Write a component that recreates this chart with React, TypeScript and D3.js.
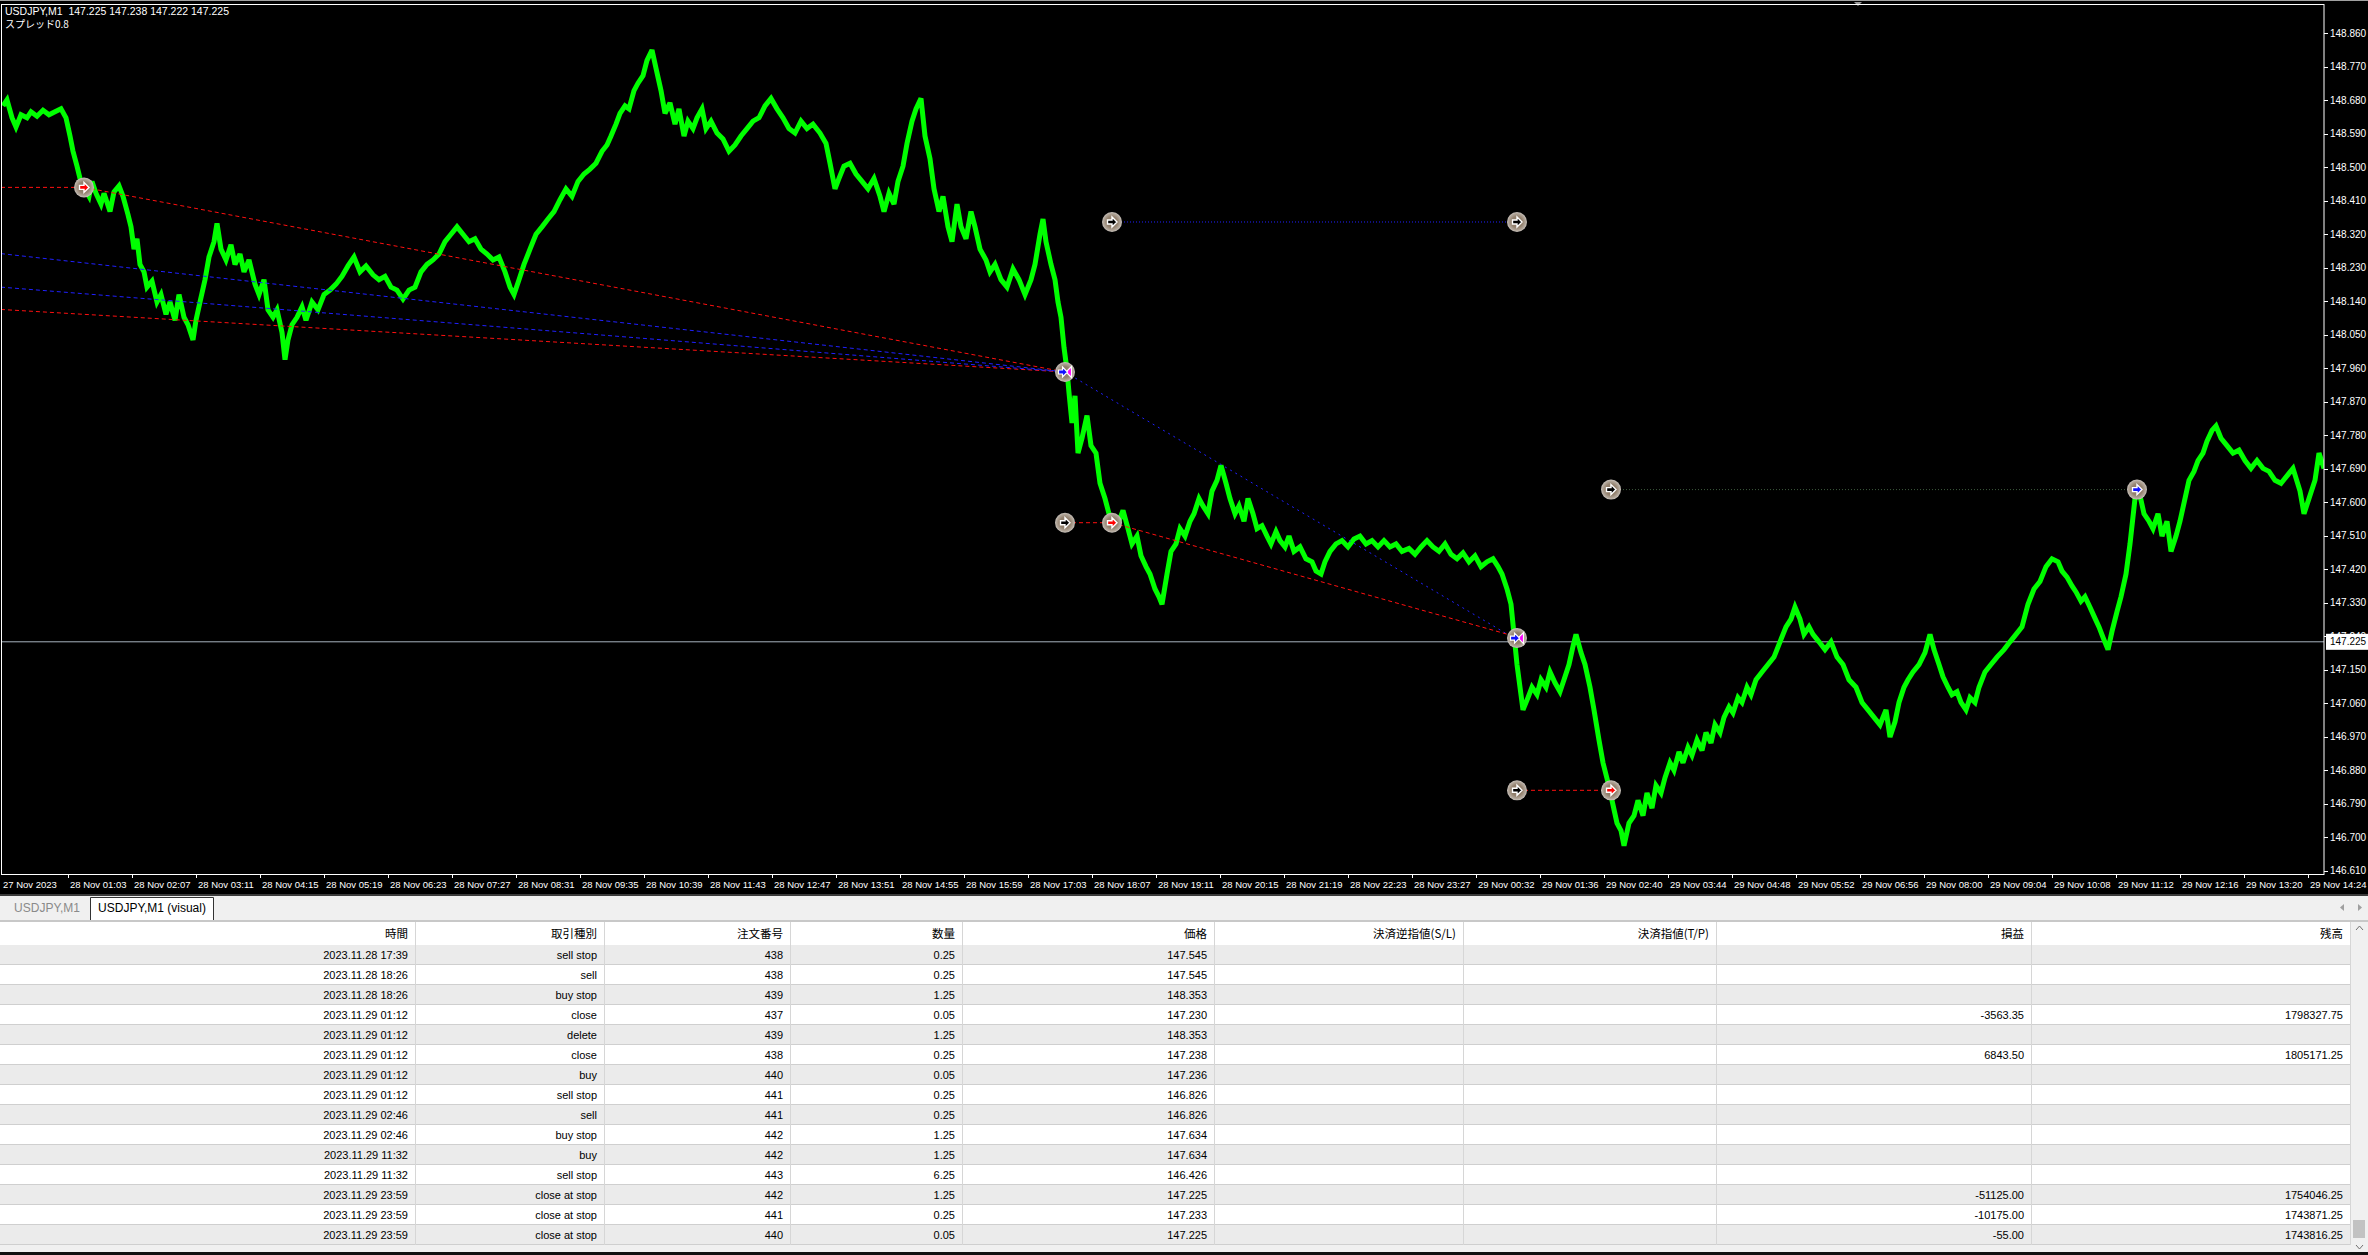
import React from 'react';
import * as d3 from 'd3';

// ---------- data ----------
const symbolTitle = 'USDJPY,M1';
const ohlcValues = ['147.225', '147.238', '147.222', '147.225'];
const spreadText = 'スプレッド0.8';
const bidPrice = 147.225;

const startTime = '2023.11.27 23:55';
// price trace: bar index (minutes from start) and price
const seriesBar = [
  2, 6, 11, 15, 20, 26, 30, 36, 42, 48, 54, 60, 65, 69, 72, 76, 79, 83, 88, 91,
  95, 100, 103, 109, 113, 118, 122, 127, 130, 133, 136, 139, 143, 146, 151, 156, 160, 165, 169, 174,
  178, 183, 187, 192, 195, 199, 204, 208, 213, 216, 220, 225, 230, 234, 239, 243, 248, 254, 258, 263,
  267, 272, 276, 281, 284, 287, 291, 296, 301, 305, 311, 317, 323, 329, 335, 341, 347, 353, 359, 365,
  372, 378, 384, 390, 396, 402, 408, 414, 420, 426, 432, 438, 444, 450, 456, 462, 468, 474, 480, 486,
  492, 498, 504, 509, 513, 518, 523, 529, 535, 541, 547, 553, 559, 565, 571, 577, 583, 589, 595, 601,
  606, 610, 615, 619, 624, 628, 633, 637, 642, 646, 651, 655, 660, 664, 669, 674, 678, 683, 687, 692,
  696, 701, 705, 710, 716, 722, 728, 734, 740, 746, 752, 758, 764, 770, 776, 782, 788, 794, 800, 806,
  812, 819, 825, 829, 834, 838, 843, 849, 855, 861, 867, 873, 879, 883, 888, 893, 897, 902, 906, 911,
  915, 920, 924, 929, 933, 938, 942, 947, 951, 956, 960, 965, 970, 974, 979, 985, 989, 994, 1000, 1006,
  1012, 1018, 1024, 1030, 1034, 1039, 1042, 1045, 1050, 1054, 1057, 1060, 1063, 1066, 1068, 1071, 1074, 1077, 1081, 1086,
  1090, 1095, 1099, 1104, 1108, 1113, 1118, 1122, 1127, 1131, 1136, 1140, 1145, 1149, 1154, 1158, 1161, 1166, 1170, 1175,
  1179, 1184, 1189, 1193, 1198, 1202, 1207, 1211, 1216, 1220, 1225, 1229, 1234, 1238, 1243, 1247, 1252, 1256, 1261, 1266,
  1270, 1275, 1279, 1284, 1288, 1293, 1299, 1305, 1311, 1315, 1320, 1324, 1329, 1335, 1341, 1347, 1353, 1359, 1365, 1371,
  1377, 1383, 1389, 1395, 1401, 1408, 1414, 1420, 1426, 1432, 1438, 1444, 1450, 1456, 1462, 1468, 1474, 1480, 1486, 1492,
  1497, 1501, 1506, 1510, 1513, 1516, 1519, 1522, 1527, 1531, 1536, 1540, 1545, 1549, 1554, 1559, 1563, 1568, 1572, 1575,
  1580, 1584, 1589, 1593, 1598, 1602, 1607, 1611, 1616, 1620, 1623, 1628, 1633, 1637, 1642, 1646, 1651, 1655, 1660, 1664,
  1669, 1673, 1678, 1682, 1687, 1691, 1696, 1701, 1705, 1710, 1714, 1719, 1723, 1728, 1732, 1737, 1741, 1746, 1750, 1755,
  1761, 1767, 1773, 1779, 1785, 1790, 1794, 1799, 1803, 1808, 1812, 1818, 1824, 1830, 1836, 1842, 1848, 1855, 1861, 1867,
  1873, 1879, 1885, 1889, 1894, 1898, 1903, 1907, 1912, 1918, 1924, 1929, 1933, 1938, 1942, 1947, 1951, 1956, 1960, 1965,
  1969, 1974, 1978, 1984, 1990, 1996, 2003, 2009, 2015, 2021, 2027, 2033, 2039, 2045, 2051, 2057, 2061, 2066, 2071, 2075,
  2080, 2084, 2089, 2093, 2098, 2102, 2107, 2111, 2116, 2120, 2125, 2129, 2134, 2138, 2143, 2148, 2152, 2157, 2161, 2166,
  2170, 2175, 2179, 2184, 2188, 2193, 2197, 2202, 2206, 2211, 2215, 2220, 2226, 2232, 2238, 2244, 2250, 2256, 2262, 2268,
  2274, 2280, 2286, 2292, 2299, 2303, 2308, 2314, 2318, 2323,
];
const seriesPrice = [
  148.665, 148.681, 148.633, 148.608, 148.641, 148.633, 148.649, 148.637, 148.653, 148.641, 148.649, 148.657, 148.633, 148.584, 148.543, 148.503, 148.470, 148.446, 148.422, 148.462,
  148.430, 148.401, 148.430, 148.381, 148.434, 148.450, 148.422, 148.373, 148.340, 148.280, 148.308, 148.239, 148.219, 148.178, 148.194, 148.138, 148.158, 148.105, 148.138, 148.089,
  148.158, 148.097, 148.077, 148.036, 148.089, 148.138, 148.198, 148.259, 148.300, 148.349, 148.280, 148.251, 148.292, 148.239, 148.267, 148.219, 148.251, 148.186, 148.158, 148.198,
  148.117, 148.097, 148.117, 148.056, 147.983, 148.036, 148.077, 148.097, 148.125, 148.089, 148.138, 148.117, 148.158, 148.170, 148.186, 148.207, 148.235, 148.259, 148.219, 148.235,
  148.211, 148.198, 148.207, 148.178, 148.170, 148.146, 148.170, 148.178, 148.219, 148.239, 148.251, 148.267, 148.300, 148.320, 148.340, 148.320, 148.300, 148.308, 148.280, 148.267,
  148.251, 148.259, 148.219, 148.178, 148.158, 148.198, 148.239, 148.280, 148.320, 148.340, 148.361, 148.381, 148.413, 148.442, 148.422, 148.462, 148.482, 148.495, 148.511, 148.543,
  148.560, 148.584, 148.616, 148.645, 148.665, 148.657, 148.706, 148.726, 148.746, 148.787, 148.815, 148.766, 148.706, 148.645, 148.673, 148.616, 148.657, 148.584, 148.624, 148.604,
  148.633, 148.657, 148.604, 148.624, 148.592, 148.576, 148.543, 148.560, 148.584, 148.604, 148.624, 148.633, 148.665, 148.685, 148.657, 148.633, 148.604, 148.592, 148.624, 148.604,
  148.616, 148.592, 148.564, 148.511, 148.442, 148.470, 148.503, 148.511, 148.482, 148.462, 148.442, 148.470, 148.422, 148.381, 148.430, 148.401, 148.462, 148.503, 148.564, 148.624,
  148.657, 148.685, 148.584, 148.523, 148.442, 148.381, 148.422, 148.340, 148.300, 148.401, 148.340, 148.308, 148.381, 148.340, 148.280, 148.251, 148.219, 148.239, 148.198, 148.178,
  148.227, 148.198, 148.158, 148.198, 148.239, 148.320, 148.361, 148.300, 148.239, 148.198, 148.138, 148.097, 148.016, 147.955, 147.894, 147.813, 147.886, 147.732, 147.772, 147.833,
  147.752, 147.732, 147.651, 147.610, 147.569, 147.537, 147.549, 147.578, 147.529, 147.488, 147.509, 147.456, 147.427, 147.407, 147.367, 147.346, 147.326, 147.407, 147.468, 147.488,
  147.529, 147.509, 147.549, 147.569, 147.610, 147.590, 147.569, 147.630, 147.659, 147.699, 147.651, 147.610, 147.569, 147.590, 147.549, 147.610, 147.569, 147.529, 147.537, 147.509,
  147.488, 147.521, 147.497, 147.480, 147.509, 147.468, 147.480, 147.448, 147.440, 147.415, 147.407, 147.440, 147.468, 147.488, 147.497, 147.480, 147.501, 147.509, 147.488, 147.497,
  147.480, 147.497, 147.480, 147.488, 147.468, 147.476, 147.460, 147.480, 147.497, 147.480, 147.468, 147.488, 147.460, 147.448, 147.464, 147.440, 147.456, 147.427, 147.440, 147.448,
  147.427, 147.407, 147.367, 147.326, 147.245, 147.164, 147.103, 147.042, 147.075, 147.103, 147.083, 147.123, 147.103, 147.144, 147.115, 147.091, 147.123, 147.164, 147.213, 147.245,
  147.196, 147.164, 147.103, 147.042, 146.961, 146.900, 146.847, 146.799, 146.738, 146.718, 146.677, 146.738, 146.758, 146.799, 146.758, 146.819, 146.778, 146.839, 146.819, 146.860,
  146.900, 146.880, 146.929, 146.900, 146.941, 146.920, 146.961, 146.933, 146.981, 146.953, 147.002, 146.981, 147.022, 147.050, 147.034, 147.075, 147.062, 147.103, 147.083, 147.123,
  147.144, 147.164, 147.184, 147.225, 147.265, 147.286, 147.318, 147.286, 147.245, 147.265, 147.245, 147.225, 147.204, 147.225, 147.184, 147.164, 147.123, 147.103, 147.062, 147.042,
  147.022, 147.002, 147.042, 146.969, 147.010, 147.062, 147.103, 147.123, 147.144, 147.164, 147.196, 147.245, 147.204, 147.164, 147.131, 147.103, 147.083, 147.091, 147.062, 147.042,
  147.075, 147.062, 147.103, 147.144, 147.164, 147.184, 147.204, 147.225, 147.245, 147.265, 147.326, 147.367, 147.387, 147.427, 147.448, 147.440, 147.415, 147.399, 147.375, 147.359,
  147.334, 147.346, 147.318, 147.294, 147.265, 147.237, 147.204, 147.253, 147.306, 147.346, 147.407, 147.488, 147.610, 147.630, 147.569, 147.549, 147.529, 147.569, 147.509, 147.549,
  147.468, 147.509, 147.549, 147.610, 147.659, 147.683, 147.712, 147.732, 147.764, 147.793, 147.805, 147.772, 147.752, 147.732, 147.740, 147.712, 147.691, 147.712, 147.691, 147.683,
  147.659, 147.651, 147.671, 147.691, 147.630, 147.569, 147.610, 147.659, 147.732, 147.691,
];

const priceTicks = [
  148.86, 148.77, 148.68, 148.59, 148.5, 148.41, 148.32, 148.23, 148.14, 148.05, 147.96, 147.87,
  147.78, 147.69, 147.6, 147.51, 147.42, 147.33, 147.24, 147.15, 147.06, 146.97, 146.88, 146.79,
  146.7, 146.61,
];

const timeTicks = [
  '2023.11.28 01:03', '2023.11.28 02:07', '2023.11.28 03:11', '2023.11.28 04:15', '2023.11.28 05:19',
  '2023.11.28 06:23', '2023.11.28 07:27', '2023.11.28 08:31', '2023.11.28 09:35', '2023.11.28 10:39',
  '2023.11.28 11:43', '2023.11.28 12:47', '2023.11.28 13:51', '2023.11.28 14:55', '2023.11.28 15:59',
  '2023.11.28 17:03', '2023.11.28 18:07', '2023.11.28 19:11', '2023.11.28 20:15', '2023.11.28 21:19',
  '2023.11.28 22:23', '2023.11.28 23:27', '2023.11.29 00:32', '2023.11.29 01:36', '2023.11.29 02:40',
  '2023.11.29 03:44', '2023.11.29 04:48', '2023.11.29 05:52', '2023.11.29 06:56', '2023.11.29 08:00',
  '2023.11.29 09:04', '2023.11.29 10:08', '2023.11.29 11:12', '2023.11.29 12:16', '2023.11.29 13:20',
  '2023.11.29 14:24',
];
const firstTickLabel = '27 Nov 2023';

// trade lines
const tradeLineStart = ['2023.11.27 23:55', '2023.11.28 01:18', '2023.11.27 23:55', '2023.11.27 23:55', '2023.11.27 23:55', '2023.11.28 17:39', '2023.11.28 17:39', '2023.11.28 18:26', '2023.11.28 18:26', '2023.11.29 01:12', '2023.11.29 02:46'];
const tradeLineStartPrice = [148.446, 148.446, 148.118, 148.268, 148.178, 147.95, 147.545, 147.545, 148.353, 146.826, 147.634];
const tradeLineEnd = ['2023.11.28 01:18', '2023.11.28 17:39', '2023.11.28 17:39', '2023.11.28 17:39', '2023.11.28 17:39', '2023.11.29 01:12', '2023.11.28 18:26', '2023.11.29 01:12', '2023.11.29 01:12', '2023.11.29 02:46', '2023.11.29 11:32'];
const tradeLineEndPrice = [148.446, 147.95, 147.95, 147.95, 147.95, 147.23, 147.545, 147.238, 148.353, 146.826, 147.634];
const tradeLineKind = ['sell', 'sell', 'sell', 'buy', 'buy', 'buyclose', 'sell', 'sell', 'pendbuy', 'sell', 'pendgreen'];

const markerTimes = ['2023.11.28 01:18', '2023.11.28 17:39', '2023.11.28 17:39', '2023.11.28 18:26', '2023.11.28 18:26', '2023.11.29 01:12', '2023.11.29 01:12', '2023.11.29 01:12', '2023.11.29 02:46', '2023.11.29 02:46', '2023.11.29 11:32'];
const markerPrices = [148.446, 147.95, 147.545, 147.545, 148.353, 148.353, 147.235, 146.826, 146.826, 147.634, 147.634];
const markerKinds = ['sell', 'close', 'pending', 'sell', 'pending', 'pending', 'close', 'pending', 'sell', 'pending', 'buy'];

// table
const tabNames = ['USDJPY,M1', 'USDJPY,M1 (visual)'];
const colHeaders = ['時間', '取引種別', '注文番号', '数量', '価格', '決済逆指値(S/L)', '決済指値(T/P)', '損益', '残高'];
const rowTimes = ['2023.11.28 17:39', '2023.11.28 18:26', '2023.11.28 18:26', '2023.11.29 01:12', '2023.11.29 01:12', '2023.11.29 01:12', '2023.11.29 01:12', '2023.11.29 01:12', '2023.11.29 02:46', '2023.11.29 02:46', '2023.11.29 11:32', '2023.11.29 11:32', '2023.11.29 23:59', '2023.11.29 23:59', '2023.11.29 23:59'];
const rowTypes = ['sell stop', 'sell', 'buy stop', 'close', 'delete', 'close', 'buy', 'sell stop', 'sell', 'buy stop', 'buy', 'sell stop', 'close at stop', 'close at stop', 'close at stop'];
const rowOrders = ['438', '438', '439', '437', '439', '438', '440', '441', '441', '442', '442', '443', '442', '441', '440'];
const rowSizes = ['0.25', '0.25', '1.25', '0.05', '1.25', '0.25', '0.05', '0.25', '0.25', '1.25', '1.25', '6.25', '1.25', '0.25', '0.05'];
const rowPrices = ['147.545', '147.545', '148.353', '147.230', '148.353', '147.238', '147.236', '146.826', '146.826', '147.634', '147.634', '146.426', '147.225', '147.233', '147.225'];
const rowSL = ['', '', '', '', '', '', '', '', '', '', '', '', '', '', ''];
const rowTP = ['', '', '', '', '', '', '', '', '', '', '', '', '', '', ''];
const rowProfits = ['', '', '', '-3563.35', '', '6843.50', '', '', '', '', '', '', '-51125.00', '-10175.00', '-55.00'];
const rowBalances = ['', '', '', '1798327.75', '', '1805171.25', '', '', '', '', '', '', '1754046.25', '1743871.25', '1743816.25'];

// ---------- helpers ----------
function parseT(s: string) {
  const [d, t] = s.split(' ');
  const [Y, M, D] = d.split('.').map(Number);
  const [h, m] = t.split(':').map(Number);
  return Date.UTC(Y, M - 1, D, h, m);
}
const T0 = parseT(startTime);
const GAP = parseT('2023.11.29 00:00');
function barIndex(s: string) {
  const ms = parseT(s);
  let i = (ms - T0) / 60000;
  if (ms >= GAP) i -= 1;
  return i;
}
const fmtTick = (s: string) => d3.utcFormat('%d %b %H:%M')(new Date(parseT(s)));

const FONT = '"Liberation Sans", Arial, sans-serif';
const JFONT = '"Noto Sans CJK JP", "Liberation Sans", sans-serif';

function Marker({ cx, cy, kind }: { cx: number; cy: number; kind: string }) {
  const arrowR = 'M-4.5,-2 L0,-2 L0,-5 L5,0 L0,5 L0,2 L-4.5,2 Z';
  let inner: React.ReactNode = null;
  if (kind === 'pending') {
    inner = <path d={arrowR} fill="#000" stroke="#fff" strokeWidth={1.4} />;
  } else if (kind === 'sell') {
    inner = <path d={arrowR} fill="#ff0000" stroke="#fff" strokeWidth={1.4} />;
  } else if (kind === 'buy') {
    inner = <path d={arrowR} fill="#1010ff" stroke="#fff" strokeWidth={1.4} />;
  } else {
    inner = (
      <g>
        <path d="M6.5,-5.5 L1,0 L6.5,5.5 Z" fill="#ff00ff" stroke="#fff" strokeWidth={1.2} />
        <path d="M-6.5,-2 L-2.5,-2 L-2.5,-5 L2.5,0 L-2.5,5 L-2.5,2 L-6.5,2 Z" fill="#1010ff" stroke="#fff" strokeWidth={1.2} />
      </g>
    );
  }
  return (
    <g transform={`translate(${cx},${cy})`}>
      <circle r={10} fill="url(#mgrad)" />
      {inner}
    </g>
  );
}

export default function App() {
  const plotR = 2324;
  const plotT = 4;
  const plotB = 874;
  const x = d3.scaleLinear().domain([0, 2324]).range([1, 2325]);
  const y = d3.scaleLinear().domain([146.61, 148.86]).range([870.7, 33.3]);

  const pts = seriesBar.map((b, i) => [b, seriesPrice[i]] as [number, number]);
  const line = d3
    .line<[number, number]>()
    .x((d) => x(d[0]))
    .y((d) => y(d[1]))
    .curve(d3.curveLinear);
  const linePath = line(pts) || '';

  const lineStyle = (k: string) => {
    if (k === 'sell') return { stroke: '#ff1010', dash: '4,3' };
    if (k === 'buy') return { stroke: '#2020ff', dash: '4,3' };
    if (k === 'buyclose') return { stroke: '#2020ff', dash: '2,4' };
    if (k === 'pendbuy') return { stroke: '#2020ff', dash: '1,2' };
    return { stroke: '#3c5a3c', dash: '1,2' };
  };

  const colRight = [415, 604, 790, 962, 1214, 1463, 1716, 2031, 2350];
  const headTop = 922;
  const rowTop0 = 945;
  const rowH = 20;
  const rows = rowTimes.map((t, i) => [t, rowTypes[i], rowOrders[i], rowSizes[i], rowPrices[i], rowSL[i], rowTP[i], rowProfits[i], rowBalances[i]]);

  return (
    <svg width={2368} height={1255} style={{ position: 'absolute', left: 0, top: 0, display: 'block' }} fontFamily={FONT}>
      <defs>
        <clipPath id="plotclip">
          <rect x={1} y={plotT + 1} width={plotR - 1} height={plotB - plotT - 1} />
        </clipPath>
        <radialGradient id="mgrad">
          <stop offset="0%" stopColor="#8a7663" />
          <stop offset="55%" stopColor="#94826f" />
          <stop offset="85%" stopColor="#b3a89c" />
          <stop offset="100%" stopColor="#c9c3bd" />
        </radialGradient>
      </defs>
      <rect x={0} y={0} width={2368} height={895} fill="#000" />
      <rect x={0} y={0} width={2368} height={1} fill="#a0a0a0" />
      <path d="M1854,2 L1862,2 L1858,6 Z" fill="#9a9a9a" />

      <g clipPath="url(#plotclip)">
        <line x1={0} x2={plotR} y1={y(bidPrice)} y2={y(bidPrice)} stroke="#a7b3be" strokeWidth={1} />
        <path d={linePath} fill="none" stroke="#00ff00" strokeWidth={5} strokeLinejoin="miter" strokeMiterlimit={3} />
        {tradeLineStart.map((t, i) => {
          const st = lineStyle(tradeLineKind[i]);
          return (
            <line
              key={i}
              x1={x(barIndex(t))}
              y1={y(tradeLineStartPrice[i])}
              x2={x(barIndex(tradeLineEnd[i]))}
              y2={y(tradeLineEndPrice[i])}
              stroke={st.stroke}
              strokeWidth={1}
              strokeDasharray={st.dash}
            />
          );
        })}
        {markerTimes.map((t, i) => (
          <Marker key={i} cx={x(barIndex(t))} cy={y(markerPrices[i])} kind={markerKinds[i]} />
        ))}
      </g>

      <rect x={1.5} y={plotT + 0.5} width={plotR - 1.5} height={plotB - plotT} fill="none" stroke="#fff" strokeWidth={1} />

      <text x={5} y={15} fill="#fff" fontSize={10.5}>
        {symbolTitle + '\u00a0\u00a0' + ohlcValues.join(' ')}
      </text>
      <text x={5} y={28} fill="#fff" fontSize={10} fontFamily={JFONT}>
        {spreadText}
      </text>

      {priceTicks.map((p, i) => (
        <g key={i}>
          <line x1={plotR} x2={plotR + 4} y1={Math.round(y(p)) + 0.5} y2={Math.round(y(p)) + 0.5} stroke="#fff" />
          <text x={plotR + 6} y={y(p) + 3.5} fill="#fff" fontSize={10}>
            {p.toFixed(3)}
          </text>
        </g>
      ))}
      <rect x={plotR + 2} y={y(bidPrice) - 8} width={42} height={16} fill="#fff" />
      <text x={plotR + 6} y={y(bidPrice) + 3.5} fill="#000" fontSize={10}>
        {bidPrice.toFixed(3)}
      </text>

      <text x={3} y={888} fill="#fff" fontSize={9.5}>
        {firstTickLabel}
      </text>
      {timeTicks.map((t, i) => {
        const xx = Math.round(x(barIndex(t))) - 0.5;
        return (
          <g key={i}>
            <line x1={xx} x2={xx} y1={plotB} y2={plotB + 4} stroke="#fff" />
            <text x={xx + 1.5} y={888} fill="#fff" fontSize={9.5}>
              {fmtTick(t)}
            </text>
          </g>
        );
      })}

      <rect x={0} y={895} width={2368} height={360} fill="#f0f0f0" />
      <rect x={0} y={894} width={2368} height={2} fill="#3a3a3a" />
      <text x={47} y={912} fontSize={12} fill="#8a8a8a" textAnchor="middle">
        {tabNames[0]}
      </text>
      <path d="M90.5,920 L90.5,897.5 L213.5,897.5 L213.5,920" fill="#fff" stroke="#333" />
      <text x={152} y={912} fontSize={12} fill="#000" textAnchor="middle">
        {tabNames[1]}
      </text>
      <path d="M2344,904 L2340,907.5 L2344,911 Z" fill="#a0a0a0" />
      <path d="M2358,904 L2362,907.5 L2358,911 Z" fill="#a0a0a0" />
      <rect x={0} y={920} width={2368} height={2} fill="#c8c8c8" />

      <rect x={0} y={headTop} width={2350} height={rowTop0 - headTop} fill="#fff" />
      {colHeaders.map((h, c) => (
        <text key={c} x={colRight[c] - 7} y={headTop + 16} fontSize={11.5} fontFamily={JFONT} textAnchor="end" fill="#000">
          {h}
        </text>
      ))}
      {rows.map((r, k) => (
        <g key={k}>
          <rect x={0} y={rowTop0 + k * rowH} width={2350} height={rowH} fill={k % 2 === 0 ? '#ebebeb' : '#ffffff'} />
          <rect x={0} y={rowTop0 + (k + 1) * rowH - 1} width={2350} height={1.5} fill="#cfcfcf" />
          {r.map((v, c) => (
            <text key={c} x={colRight[c] - 7} y={rowTop0 + k * rowH + 14} fontSize={11} textAnchor="end" fill="#000">
              {v}
            </text>
          ))}
        </g>
      ))}
      {colRight.map((cx, c) => (
        <line key={c} x1={cx + 0.5} x2={cx + 0.5} y1={headTop} y2={rowTop0 + rows.length * rowH} stroke="#d6d6d6" />
      ))}
      <rect x={0} y={rowTop0 + rows.length * rowH} width={2350} height={3} fill="#f0f0f0" />
      <rect x={2351} y={headTop} width={17} height={1252 - headTop} fill="#f0f0f0" />
      <path d="M2356,930 L2359.5,926 L2363,930" fill="none" stroke="#707070" />
      <path d="M2356,1245 L2359.5,1249 L2363,1245" fill="none" stroke="#707070" />
      <rect x={2353} y={1220} width={12} height={18} fill="#c2c2c2" />
      <rect x={0} y={1252} width={2368} height={3} fill="#101010" />
    </svg>
  );
}
